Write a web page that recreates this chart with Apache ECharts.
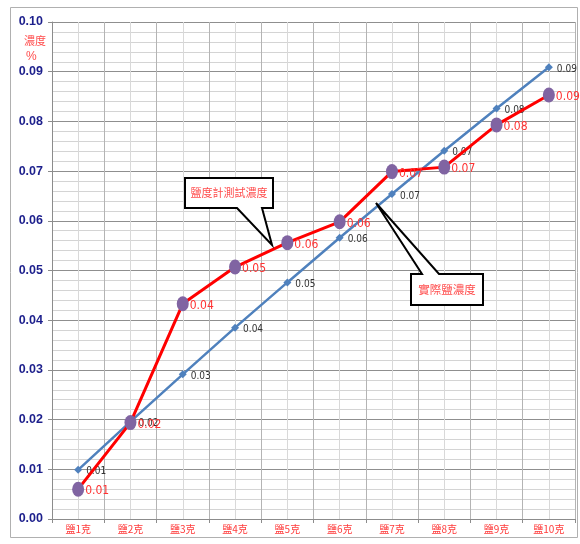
<!DOCTYPE html>
<html>
<head>
<meta charset="utf-8">
<script src="https://cdn.jsdelivr.net/npm/echarts@6/dist/echarts.min.js"></script>
<style>
  html, body { margin: 0; padding: 0; background: #fff; }
  #chart { width: 580px; height: 544px; }
</style>
</head>
<body>
<div id="chart"></div>
<script>
// Salt added per sample
var categories = ['鹽1克', '鹽2克', '鹽3克', '鹽4克', '鹽5克', '鹽6克', '鹽7克', '鹽8克', '鹽9克', '鹽10克'];
// Actual concentration (salt / total weight)
var actualValues = [0.0099, 0.0196, 0.0291, 0.0385, 0.0476, 0.0566, 0.0654, 0.0741, 0.0826, 0.0909];
// Concentration read by the salinity meter
var measuredValues = [0.0060, 0.0194, 0.0433, 0.0507, 0.0556, 0.0598, 0.0699, 0.0708, 0.0793, 0.0853];
// Y axis ticks
var yTicks = [0, 0.01, 0.02, 0.03, 0.04, 0.05, 0.06, 0.07, 0.08, 0.09, 0.10];

var chart = echarts.init(document.getElementById('chart'), null, { renderer: 'canvas' });
var fontFamily = '"Liberation Sans", "Noto Sans CJK TC", sans-serif';
var narrowFont = '"Liberation Sans Narrow", "DejaVu Sans Condensed", "Liberation Sans", sans-serif';
var cjkFont = '"Noto Sans CJK TC", "Liberation Sans", sans-serif';

function fmt(p) { return p.value.toFixed(2); }

chart.setOption({
  backgroundColor: '#ffffff',
  animation: false,
  grid: { left: 52, right: 5, top: 22, bottom: 25, containLabel: false },
  xAxis: [{
    type: 'category',
    data: categories,
    boundaryGap: true,
    axisLine: { lineStyle: { color: '#8c8c8c', width: 1 } },
    axisTick: { show: true, length: 4, lineStyle: { color: '#8c8c8c' } },
    axisLabel: { color: '#ff3b3b', fontSize: 10, fontFamily: cjkFont, margin: 5 },
    splitLine: { show: false }
  }, {
    // half-category grid: dark at category boundaries, light at centres
    type: 'value',
    min: 0, max: 2 * categories.length, interval: 1,
    position: 'bottom',
    axisLine: { show: false }, axisTick: { show: false }, axisLabel: { show: false },
    splitLine: { show: true, lineStyle: { color: ['#b4b4b4', '#d9d9d9'], width: 1 } }
  }],
  yAxis: {
    type: 'value',
    min: yTicks[0], max: yTicks[yTicks.length - 1], interval: 0.01,
    axisLine: { show: true, lineStyle: { color: '#8c8c8c' } },
    axisTick: { show: true, length: 4, lineStyle: { color: '#8c8c8c' } },
    axisLabel: {
      color: '#1c1f8c', fontSize: 12.5, fontWeight: 'bold', fontFamily: fontFamily, margin: 9,
      formatter: function (v) { return v.toFixed(2); }
    },
    splitLine: { show: true, lineStyle: { color: '#8f8f8f', width: 1 } },
    minorTick: { show: false, splitNumber: 5 },
    minorSplitLine: { show: true, lineStyle: { color: '#d4d4d4', width: 1 } }
  },
  series: [{
    name: '實際鹽濃度',
    type: 'line',
    data: actualValues,
    z: 3,
    lineStyle: { color: '#4f81bd', width: 2.5 },
    itemStyle: { color: '#4f81bd' },
    symbol: 'diamond', symbolSize: 8, showAllSymbol: true,
    label: {
      show: true, position: 'right', distance: 4, offset: [0, 2],
      color: '#333333', fontSize: 10, fontFamily: narrowFont, formatter: fmt
    }
  }, {
    name: '鹽度計測試濃度',
    type: 'line',
    data: measuredValues,
    z: 4,
    lineStyle: { color: '#ff0000', width: 3 },
    itemStyle: { color: '#8064a2' },
    symbol: 'circle', symbolSize: [12, 15], showAllSymbol: true,
    label: {
      show: true, position: 'right', distance: 1, offset: [0, 2],
      color: '#ff3333', fontSize: 12, fontFamily: narrowFont, formatter: fmt
    }
  }],
  graphic: [
    // outer chart frame
    { type: 'rect', z: 0, silent: true,
      shape: { x: 10.5, y: 7.5, width: 567, height: 530 },
      style: { fill: 'none', stroke: '#b0b0b0', lineWidth: 1 } },
    // y axis unit
    { type: 'text', z: 10, left: 24, top: 35,
      style: { text: '濃度', fill: '#ff4d4d', font: '11px ' + cjkFont } },
    { type: 'text', z: 10, left: 26, top: 51,
      style: { text: '%', fill: '#ff4d4d', font: '12px ' + fontFamily } },
    // callout for the meter reading line
    { type: 'polygon', z: 20,
      shape: { points: [[185, 178], [273, 178], [273, 208], [262, 208], [272, 245], [237, 208], [185, 208]] },
      style: { fill: '#ffffff', stroke: '#000000', lineWidth: 2 } },
    { type: 'text', z: 21, x: 229, y: 193,
      style: { text: '鹽度計測試濃度', fill: '#ff4d4d', font: '11px ' + cjkFont, align: 'center', verticalAlign: 'middle' } },
    // callout for the actual concentration line
    { type: 'polygon', z: 20,
      shape: { points: [[411, 274], [422, 274], [376, 203], [439, 274], [483, 274], [483, 305], [411, 305]] },
      style: { fill: '#ffffff', stroke: '#000000', lineWidth: 2 } },
    { type: 'text', z: 21, x: 447, y: 290,
      style: { text: '實際鹽濃度', fill: '#ff4d4d', font: '11.5px ' + cjkFont, align: 'center', verticalAlign: 'middle' } }
  ]
});
</script>
</body>
</html>
